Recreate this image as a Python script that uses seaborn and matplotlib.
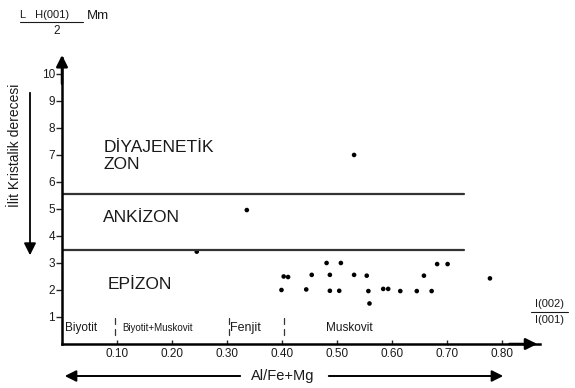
import numpy as np
import pandas as pd
import matplotlib
matplotlib.use("Agg")
import matplotlib.pyplot as plt
import seaborn as sns

# Al/Fe+Mg (x) vs illite crystallinity (y)
al_fe_mg = [0.531, 0.336, 0.245,
            0.481, 0.507, 0.403, 0.411, 0.454, 0.487, 0.531, 0.554, 0.658,
            0.682, 0.701, 0.778, 0.399, 0.444, 0.487, 0.504, 0.557, 0.584,
            0.593, 0.615, 0.645, 0.672, 0.559]
kristalinite = [7.0, 4.96, 3.42,
                3.0, 3.0, 2.5, 2.48, 2.56, 2.56, 2.56, 2.53, 2.53,
                2.96, 2.96, 2.43, 2.0, 2.02, 1.97, 1.97, 1.96, 2.04,
                2.04, 1.96, 1.96, 1.96, 1.5]

zone_limits = [5.55, 3.48]
zone_names = ["DİYAJENETİK\nZON", "ANKİZON", "EPİZON"]
zone_label_y = [6.95, 4.67, 2.2]
zone_label_x = [0.075, 0.075, 0.083]
mineral_names = ["Biyotit", "Biyotit+Muskovit", "Fenjit", "Muskovit"]
mineral_x = [0.005, 0.11, 0.305, 0.48]
mineral_fs = [8.5, 7, 9, 8.5]
separators = [0.097, 0.303, 0.404]
x_ticks = [0.10, 0.20, 0.30, 0.40, 0.50, 0.60, 0.70, 0.80]
y_ticks = list(range(1, 11))

df = pd.DataFrame({"x": al_fe_mg, "y": kristalinite})

sns.set_style("white")
plt.rcParams["font.family"] = ["Liberation Sans", "DejaVu Sans"]

fig = plt.figure(figsize=(5.75, 3.88), dpi=100)
ax = fig.add_axes([62 / 575, 44 / 388, 478 / 575, 286 / 388])

sns.scatterplot(data=df, x="x", y="y", ax=ax, color="black", s=11,
                marker="o", edgecolor="none", legend=False)

ax.set_xlim(0, 0.869)
ax.set_ylim(0, 10.59)

# zone boundaries
for lim in zone_limits:
    ax.plot([0, 0.73], [lim, lim], color="#333333", lw=1.6)

for name, xx, yy in zip(zone_names, zone_label_x, zone_label_y):
    ax.text(xx, yy, name, fontsize=12.5, va="center", ha="left",
            color="#1a1a1a", linespacing=1.15)

for name, xx, fs in zip(mineral_names, mineral_x, mineral_fs):
    ax.text(xx, 0.6, name, fontsize=fs, va="center", ha="left", color="#1a1a1a")
for sx in separators:
    ax.plot([sx, sx], [0.35, 0.55], color="#333333", lw=0.9)
    ax.plot([sx, sx], [0.75, 0.95], color="#333333", lw=0.9)

# axes styling
for side in ["top", "right"]:
    ax.spines[side].set_visible(False)
for side in ["left", "bottom"]:
    ax.spines[side].set_linewidth(1.8)
    ax.spines[side].set_color("black")
ax.set_xticks(x_ticks)
ax.set_xticklabels([f"{t:.2f}" for t in x_ticks], fontsize=8.5, color="#1a1a1a")
ax.set_yticks(y_ticks)
ax.set_yticklabels([str(t) for t in y_ticks], fontsize=8.5, color="#1a1a1a")
ax.tick_params(axis="y", direction="out", length=4, width=1, pad=1, left=True)
ax.tick_params(axis="x", direction="in", length=3, width=1, pad=3, bottom=True)
ax.set_xlabel("")
ax.set_ylabel("")

# arrow heads on axes
ax.annotate("", xy=(0, 1.02), xytext=(0, 0.9), xycoords="axes fraction",
            arrowprops=dict(arrowstyle="-|>", color="black", lw=1.8,
                            mutation_scale=17), annotation_clip=False)
ax.annotate("", xy=(1.0, 0), xytext=(0.93, 0), xycoords="axes fraction",
            arrowprops=dict(arrowstyle="-|>", color="black", lw=1.8,
                            mutation_scale=17), annotation_clip=False)

# figure-level labels and arrows
fig.text(15 / 575, 1 - 84 / 388, "İlit Kristalik derecesi", rotation=90,
         fontsize=10, ha="center", va="top", color="#1a1a1a")
fig.add_artist(matplotlib.patches.FancyArrowPatch(
    (30 / 575, 1 - 90 / 388), (30 / 575, 1 - 258 / 388),
    transform=fig.transFigure, arrowstyle="-|>", mutation_scale=18,
    color="black", lw=1.3))

fig.text(20 / 575, 1 - 15 / 388, "L   H(001)", fontsize=8, ha="left", va="center",
         color="#1a1a1a")
fig.add_artist(matplotlib.lines.Line2D([20 / 575, 83 / 575],
                                       [1 - 22 / 388, 1 - 22 / 388],
                                       transform=fig.transFigure, color="#1a1a1a", lw=0.8))
fig.text(57 / 575, 1 - 31 / 388, "2", fontsize=8.5, ha="center", va="center",
         color="#1a1a1a")
fig.text(87 / 575, 1 - 16 / 388, "Mm", fontsize=9.5, ha="left", va="center",
         color="#1a1a1a")

fig.text(549 / 575, 1 - 304 / 388, "I(002)", fontsize=8, ha="center",
         va="center", color="#1a1a1a")
fig.add_artist(matplotlib.lines.Line2D([531 / 575, 568 / 575],
                                       [1 - 312 / 388, 1 - 312 / 388],
                                       transform=fig.transFigure, color="#1a1a1a", lw=0.8))
fig.text(549 / 575, 1 - 320 / 388, "I(001)", fontsize=8, ha="center",
         va="center", color="#1a1a1a")

arrow_y = 1 - 376 / 388
fig.text(283 / 575, arrow_y, "Al/Fe+Mg", fontsize=10.5, ha="center", va="center",
         color="#1a1a1a")
fig.add_artist(matplotlib.patches.FancyArrowPatch(
    (243 / 575, arrow_y), (62 / 575, arrow_y), transform=fig.transFigure,
    arrowstyle="-|>", mutation_scale=17, color="black", lw=1.4))
fig.add_artist(matplotlib.patches.FancyArrowPatch(
    (326 / 575, arrow_y), (506 / 575, arrow_y), transform=fig.transFigure,
    arrowstyle="-|>", mutation_scale=17, color="black", lw=1.4))

fig.savefig("out.png", dpi=100)
